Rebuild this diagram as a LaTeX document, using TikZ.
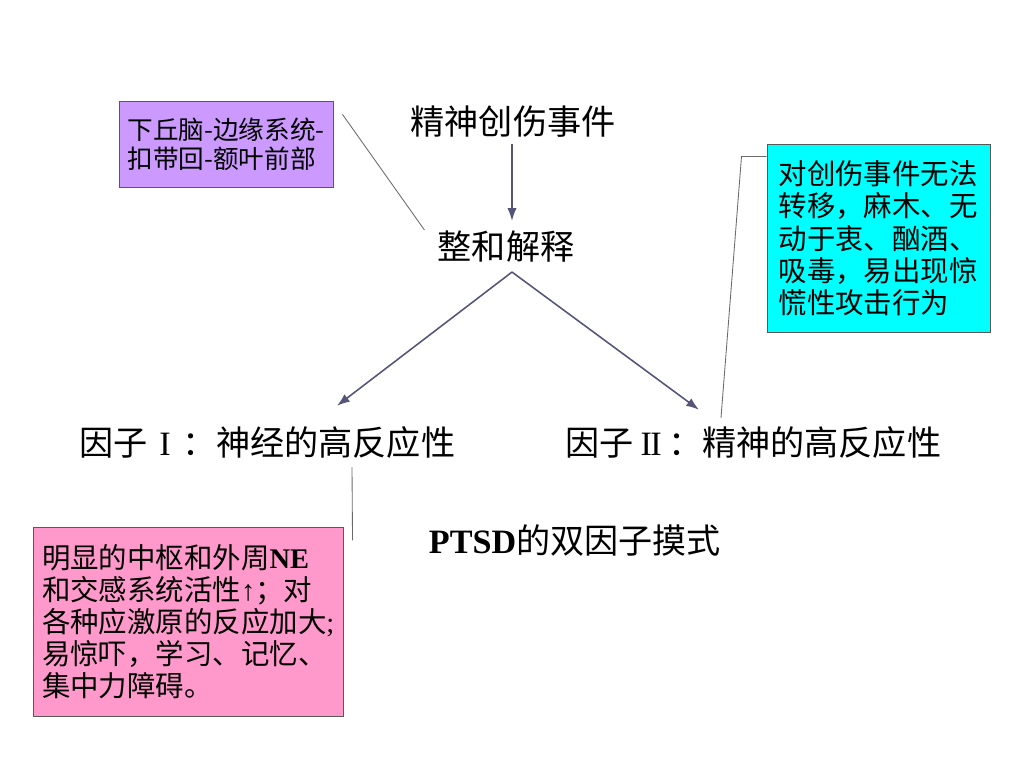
\documentclass[tikz,border=0pt]{standalone}
\usepackage{fontspec}
\setmainfont{Liberation Serif}
\newfontfamily\cjk{Noto Sans CJK SC}
\usetikzlibrary{arrows.meta,calc}
\definecolor{arrowc}{HTML}{55557A}
\definecolor{linec}{HTML}{6A6A6A}
\definecolor{purplebox}{HTML}{CC99FF}
\definecolor{cyanbox}{HTML}{00FFFF}
\definecolor{pinkbox}{HTML}{FF99CC}
\newcommand{\romI}{\makebox[1em][c]{\rmfamily I}}
\newcommand{\romII}{\makebox[1em][c]{\rmfamily I\kern-0.05em I}}
\tikzset{
  main/.style={inner sep=0pt, font=\cjk\fontsize{24}{28}\selectfont},
  notebox/.style={draw=gray!70!black, line width=0.7pt, inner sep=0pt, align=left, anchor=center},
  arr/.style={draw=arrowc, line width=1.1pt, -{Latex[length=9pt,width=6.5pt]}},
  thin/.style={draw=linec, line width=0.6pt},
}
\begin{document}
\begin{tikzpicture}[x=0.703125pt, y=-0.703125pt]
\useasboundingbox (0,0) rectangle (1024,768);

% main text nodes
\node[main] (ev) at (513,122) {精神创伤事件};
\node[main] (integ) at (506,247) {整和解释};
\node[main] (f1) at (267.5,443) {因子\romI：神经的高反应性};
\node[main] (f2) at (753.5,443) {因子\romII：精神的高反应性};
\node[main] (title) at (575,540) {{\rmfamily\bfseries PTSD}的双因子摸式};

% boxes
\node[notebox, fill=purplebox, minimum width=149.8pt, minimum height=59.8pt,
      text width=139pt, font=\cjk\fontsize{18}{20.4}\selectfont] (pb) at (226.5,144.5)
  {下丘脑-边缘系统-\\扣带回-额叶前部};
\node[notebox, fill=cyanbox, minimum width=156.8pt, minimum height=131.5pt,
      text width=140.5pt, font=\cjk\fontsize{20}{22.7}\selectfont] (cb) at (878.5,238.5)
  {对创伤事件无法\\转移，麻木、无\\动于衷、酗酒、\\吸毒，易出现惊\\慌性攻击行为};
\node[notebox, fill=pinkbox, minimum width=217.3pt, minimum height=132.2pt,
      text width=206pt, font=\cjk\fontsize{20}{22.5}\selectfont] (kb) at (188.5,622)
  {明显的中枢和外周{\rmfamily\bfseries NE}\\和交感系统活性{\rmfamily ↑}；对\\各种应激原的反应加大{\rmfamily ;}\\易惊吓，学习、记忆、\\集中力障碍。};

% arrows
\draw[arr] ($(ev.south)+(-1,6)$) -- ($(integ.north)+(6,-10)$);
\draw[arr] ($(integ.south)+(6,9)$) -- ($(f1.north)+(69.5,-21)$);
\draw[arr] ($(integ.south)+(6,9)$) -- ($(f2.north)+(-54.5,-17)$);

% callout lines
\draw[thin] ($(pb.north east)+(9,13)$) -- ($(integ.west)+(-13,-17)$);
\draw[thin] ($(cb.north west)+(0,12)$) -- ++(-25,0) -- ($(f2.north)+(-32.5,-9)$);
\draw[thin] ($(f1.south)+(84.5,8)$) -- ($(kb.north east)+(9,13)$);
\end{tikzpicture}
\end{document}
